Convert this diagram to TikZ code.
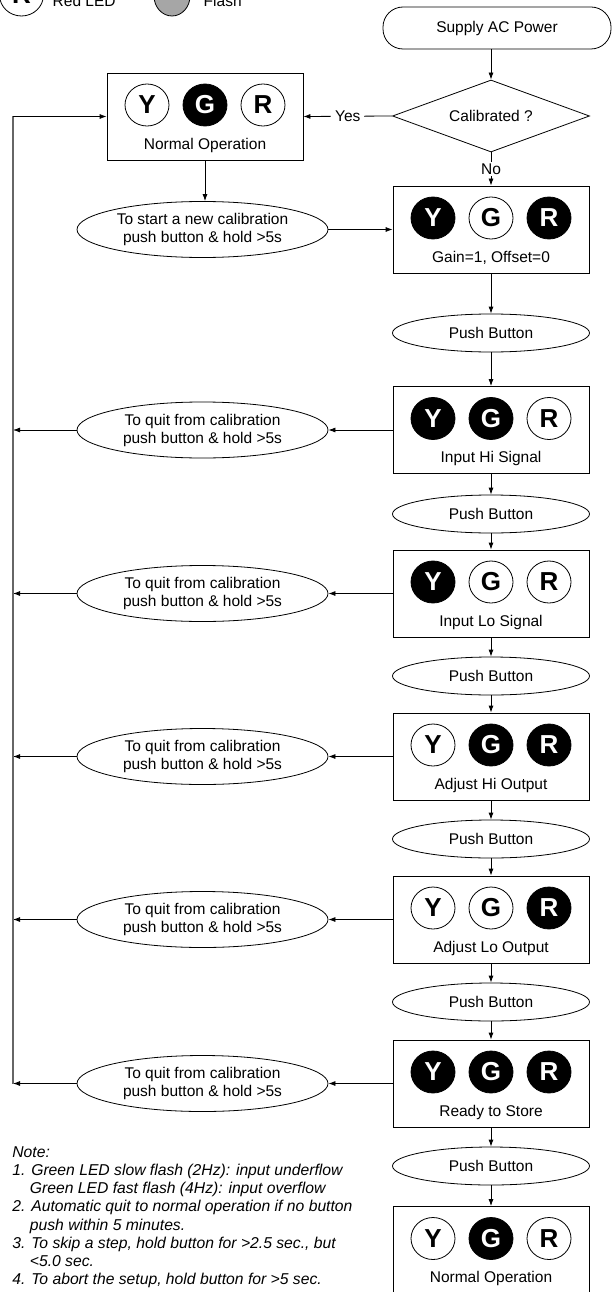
\documentclass[tikz,border=0pt]{standalone}
\usepackage{fontspec}
\setmainfont{Liberation Sans}
\usetikzlibrary{shapes.geometric,arrows.meta}

\tikzset{
  lbl/.style={font=\fontsize{15.5}{18}\selectfont},
  led/.style={ellipse,draw,minimum width=44pt,minimum height=42pt,inner sep=0pt,
    font=\fontsize{26}{28}\selectfont\bfseries},
  ledon/.style={led,fill=black,text=white},
  ledoff/.style={led,fill=white,text=black},
  stagebox/.style={draw,rectangle,minimum width=196pt,minimum height=87pt,inner sep=0pt},
  pushbtn/.style={ellipse,draw,minimum width=197pt,minimum height=38pt,inner sep=0pt,lbl},
  holdbtn/.style={ellipse,draw,minimum width=251pt,minimum height=56pt,inner sep=0pt,align=center,lbl},
  backline/.style={draw=black!60,line width=1.6pt},
}

% name, x, y, Y led, G led, R led, caption
\newcommand{\ledstage}[7]{%
  \node[stagebox] (#1) at (#2,#3) {};
  \node[#4] (#1Y) at ([shift={(-58pt,11.5pt)}]#1.center) {Y};
  \node[#5] (#1G) at ([shift={(0pt,11.5pt)}]#1.center) {G};
  \node[#6] (#1R) at ([shift={(58pt,11.5pt)}]#1.center) {R};
  \node[lbl] (#1T) at ([yshift=-28.5pt]#1.center) {#7};
}

\begin{document}
\begin{tikzpicture}[x=1pt,y=-1pt,line width=0.8pt,>={Latex[length=7pt,width=5pt]}]
  \useasboundingbox (0,0) rectangle (613,1292);
  \clip (0,0) rectangle (613,1292);

  % legend (cut at the top)
  \node[ledoff] (legR) at (21.5,-5) {R};
  \node[lbl,anchor=base west] (legRT) at (49,7) {Red LED};
  \node[ellipse,draw,fill=black!35,minimum width=36pt,minimum height=40pt,inner sep=0pt] (legF) at (172,-4) {};
  \node[lbl,anchor=base west] (legFT) at (200,7) {Flash};

  % start and check
  \node[draw,rectangle,rounded corners=20pt,minimum width=228pt,minimum height=42pt,lbl] (supply) at (497,28) {Supply AC Power};
  \node[diamond,draw,aspect=2.7,minimum width=197pt,minimum height=72pt,inner sep=0pt,lbl] (dia) at (491,116) {Calibrated ?};

  \ledstage{norm}{205}{116.5}{ledoff}{ledon}{ledoff}{Normal Operation}
  \node[holdbtn] (start) at (202.5,229.5) {To start a new calibration\\push button \& hold >5s};

  % calibration steps
  \ledstage{gain}{491}{229.5}{ledon}{ledoff}{ledon}{Gain=1, Offset=0}
  \node[pushbtn] (pb1) at (491,333) {Push Button};
  \ledstage{ihi}{491}{430}{ledon}{ledon}{ledoff}{Input Hi Signal}
  \node[pushbtn] (pb2) at (491,514) {Push Button};
  \ledstage{ilo}{491}{593.5}{ledon}{ledoff}{ledoff}{Input Lo Signal}
  \node[pushbtn] (pb3) at (491,676) {Push Button};
  \ledstage{ahi}{491}{756.5}{ledoff}{ledon}{ledon}{Adjust Hi Output}
  \node[pushbtn] (pb4) at (491,839) {Push Button};
  \ledstage{alo}{491}{919.5}{ledoff}{ledoff}{ledon}{Adjust Lo Output}
  \node[pushbtn] (pb5) at (491,1002) {Push Button};
  \ledstage{rdy}{491}{1083.5}{ledon}{ledon}{ledon}{Ready to Store}
  \node[pushbtn] (pb6) at (491,1166) {Push Button};
  \ledstage{fin}{491}{1250}{ledoff}{ledon}{ledoff}{Normal Operation}

  \draw[->] (supply.south -| dia.north) -- (dia.north);
  \draw[->] (dia.west) -- node[lbl,fill=white,inner sep=4pt] (yes) {Yes} (norm.east);
  \draw[->] (dia.south) -- node[lbl,fill=white,inner sep=2pt] (no) {No} (gain.north);
  \draw[->] (norm.south) -- (norm.south |- start.north);
  \draw[->] (start.east) -- (gain.west);
  \draw[->] (gain.south) -- (pb1.north);
  \draw[->] (pb1.south) -- (ihi.north);
  \draw[->] (ihi.south) -- (pb2.north);
  \draw[->] (pb2.south) -- (ilo.north);
  \draw[->] (ilo.south) -- (pb3.north);
  \draw[->] (pb3.south) -- (ahi.north);
  \draw[->] (ahi.south) -- (pb4.north);
  \draw[->] (pb4.south) -- (alo.north);
  \draw[->] (alo.south) -- (pb5.north);
  \draw[->] (pb5.south) -- (rdy.north);
  \draw[->] (rdy.south) -- (pb6.north);
  \draw[->] (pb6.south) -- (fin.north);

  % way back to normal operation
  \coordinate (qx) at (202.5,0);
  \coordinate (bx) at (13,0);
  \coordinate (backtop) at (norm.west -| bx);
  \foreach \s in {ihi,ilo,ahi,alo,rdy} {
    \node[holdbtn] (q\s) at (\s.west -| qx) {To quit from calibration\\push button \& hold >5s};
    \coordinate (b\s) at (q\s.west -| bx);
    \draw[->] (\s.west) -- (q\s.east);
    \draw[->] (q\s.west) -- (b\s);
  }
  \draw[backline] (backtop) -- (brdy);
  \draw[->] (backtop) -- (norm.west);

  \node[anchor=north west,align=left,inner sep=0pt,font=\fontsize{15.7}{18.2}\selectfont\itshape] (notes) at (12,1146)
    {Note:\\
     1. Green LED slow flash (2Hz): input underflow\\
     \hspace*{17.5pt}Green LED fast flash (4Hz): input overflow\\
     2. Automatic quit to normal operation if no button\\
     \hspace*{17.5pt}push within 5 minutes.\\
     3. To skip a step, hold button for >2.5 sec., but\\
     \hspace*{17.5pt}<5.0 sec.\\
     4. To abort the setup, hold button for >5 sec.};
\end{tikzpicture}
\end{document}
